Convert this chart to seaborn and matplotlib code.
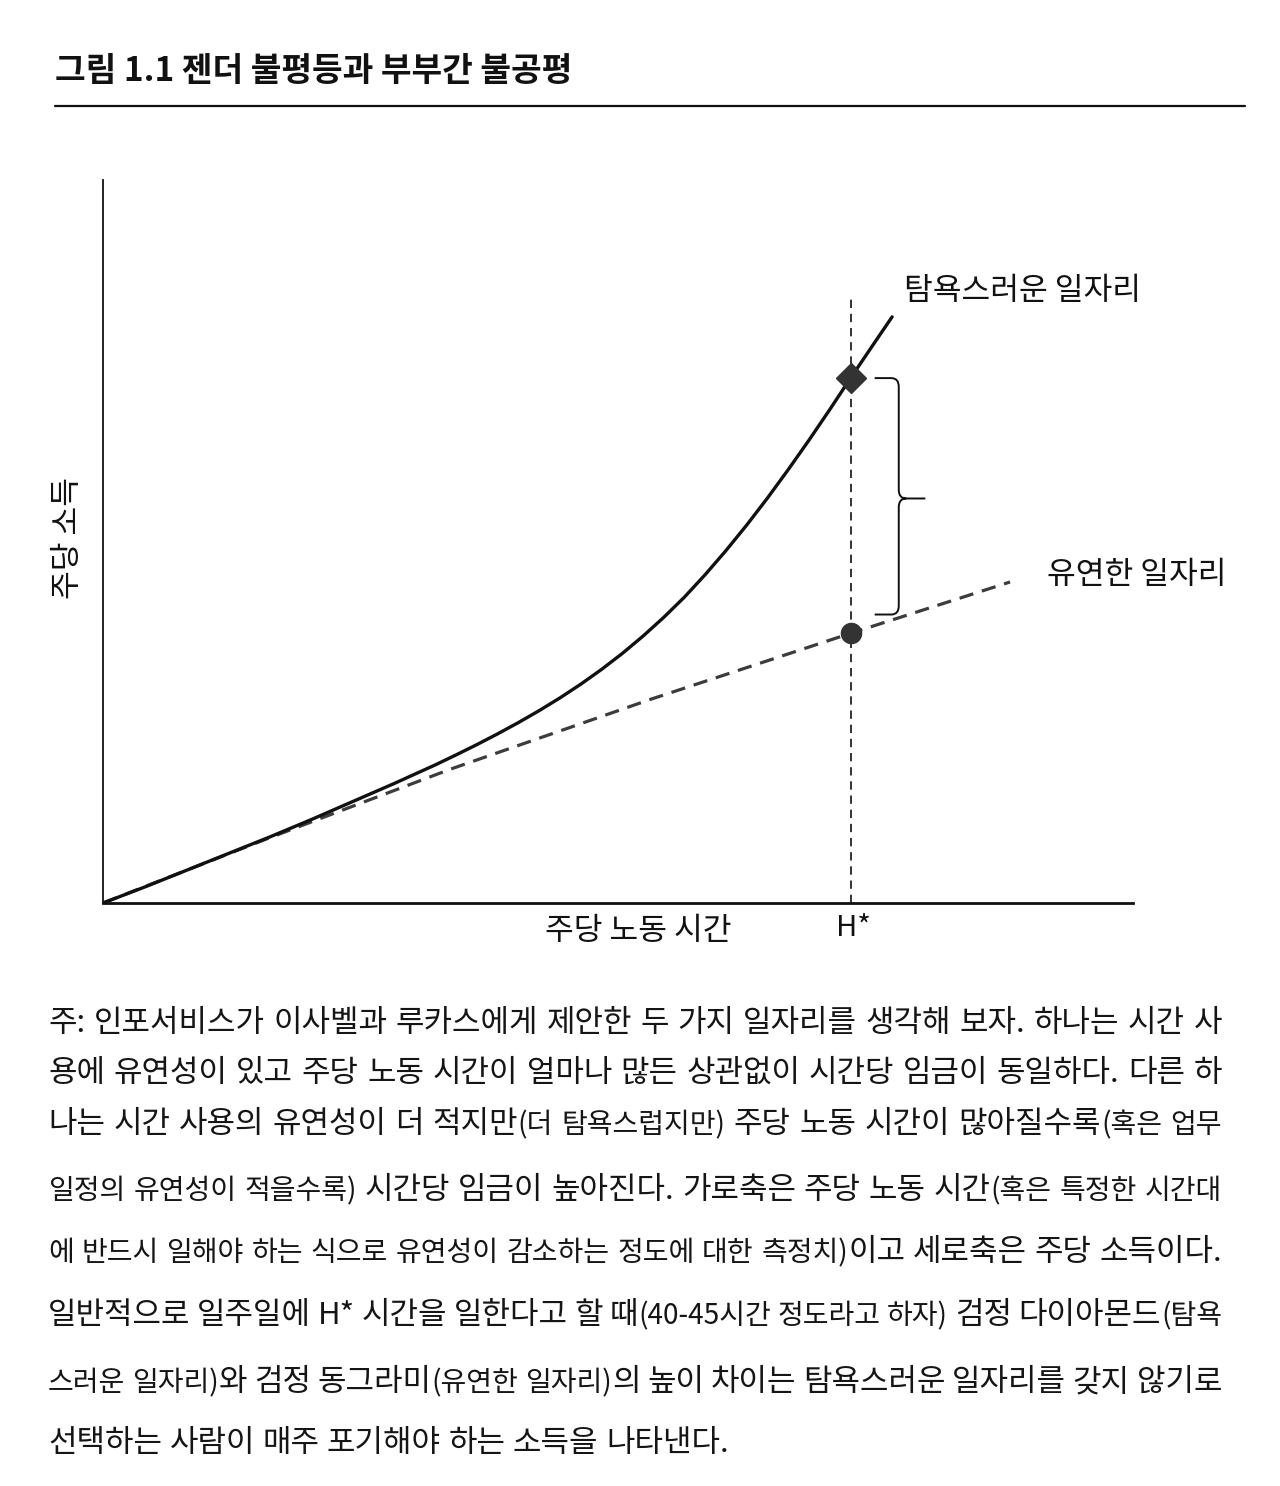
import matplotlib
matplotlib.use("Agg")
import matplotlib.pyplot as plt
from matplotlib.path import Path
from matplotlib.patches import PathPatch
import seaborn as sns
import pandas as pd

# ---------------- data ----------------
title = "그림 1.1 젠더 불평등과 부부간 불공평"
x_label = "주당 노동 시간"
y_label = "주당 소득"
greedy_label = "탐욕스러운 일자리"
flexible_label = "유연한 일자리"
h_star_label = "H*"

greedy_hours = [0, 2.5, 5, 7.5, 10, 12.5, 15, 17.5, 20, 21.25, 22.5, 23.75, 25,
                26.25, 27.5, 28.75, 30, 31.25, 32.5, 33.75, 35, 36.25, 37.5,
                38.75, 40, 41.25, 42.5, 43.75, 45, 46.25, 47.5]
greedy_income = [0, 2.2, 4.5, 6.8, 9.1, 11.5, 14.0, 16.5, 19.1, 20.48, 21.9, 23.39, 24.95,
                 26.6, 28.36, 30.25, 32.29, 34.5, 36.9, 39.5, 42.31, 45.42, 48.75,
                 52.28, 56.02, 59.95, 64.03, 68.26, 72.6, 76.85, 81.07]

flexible_hours = [0, 10, 20.9, 33, 45, 54.6]
flexible_income = [0, 9.0, 18.5, 28.2, 37.3, 44.4]

h_star = 45
h_star_top = 83.8
greedy_at_h = 72.6
flexible_at_h = 37.3

caption_lines = [
    "주: 인포서비스가 이사벨과 루카스에게 제안한 두 가지 일자리를 생각해 보자. 하나는 시간 사",
    "용에 유연성이 있고 주당 노동 시간이 얼마나 많든 상관없이 시간당 임금이 동일하다. 다른 하",
    "나는 시간 사용의 유연성이 더 적지만(더 탐욕스럽지만) 주당 노동 시간이 많아질수록(혹은 업무",
    "일정의 유연성이 적을수록) 시간당 임금이 높아진다. 가로축은 주당 노동 시간(혹은 특정한 시간대",
    "에 반드시 일해야 하는 식으로 유연성이 감소하는 정도에 대한 측정치)이고 세로축은 주당 소득이다.",
    "일반적으로 일주일에 H* 시간을 일한다고 할 때(40-45시간 정도라고 하자) 검정 다이아몬드(탐욕",
    "스러운 일자리)와 검정 동그라미(유연한 일자리)의 높이 차이는 탐욕스러운 일자리를 갖지 않기로",
    "선택하는 사람이 매주 포기해야 하는 소득을 나타낸다.",
]
caption_baselines_px = [1032, 1082, 1133, 1199, 1261, 1324, 1391, 1452]

# ---------------- style ----------------
sns.set_theme(style="white")
FONT = ["Noto Sans CJK KR", "DejaVu Sans"]
plt.rcParams["font.family"] = FONT

W, H = 1280, 1486
fig = plt.figure(figsize=(W / 100, H / 100), dpi=100)
fig.patch.set_facecolor("white")

def fx(px):
    return px / W

def fy(py):
    return 1 - py / H

ax = fig.add_axes([fx(103), fy(903), fx(1133) - fx(103), fy(180) - fy(903)])
ax.set_facecolor("white")
ax.set_xlim(0, 62)
ax.set_ylim(0, 100)

greedy_df = pd.DataFrame({"hours": greedy_hours, "income": greedy_income})
flex_df = pd.DataFrame({"hours": flexible_hours, "income": flexible_income})

sns.lineplot(data=flex_df, x="hours", y="income", ax=ax, color="#3c3c3c",
             linewidth=2.3, linestyle=(0, (4.5, 2.8)), sort=False, zorder=3)
sns.lineplot(data=greedy_df, x="hours", y="income", ax=ax, color="#111111",
             linewidth=2.4, sort=False, zorder=4)
for ln in ax.lines:
    ln.set_solid_joinstyle("round")

ax.plot([h_star, h_star], [0, h_star_top], color="#111111", linewidth=1.2,
        linestyle=(0, (5, 3.5)), zorder=2)

ax.plot([h_star], [greedy_at_h], marker="D", markersize=15, color="#333333",
        linestyle="none", zorder=6)
ax.plot([h_star], [flexible_at_h], marker="o", markersize=14.5, color="#333333",
        linestyle="none", zorder=6)

# curly brace between the two markers
x0 = h_star + 1.45
xm = h_star + 2.9
xt = h_star + 4.5
rx = 0.45
ry = 1.2
yt = greedy_at_h
yb = flexible_at_h + 2.6
ym = (yt + yb) / 2 - 0.3
verts = [
    (x0, yt), (xm - rx, yt), (xm, yt), (xm, yt - ry),
    (xm, ym + ry), (xm, ym), (xm + rx, ym), (xt, ym),
    (xm + rx, ym), (xm, ym), (xm, ym - ry),
    (xm, yb + ry), (xm, yb), (xm - rx, yb), (x0, yb),
]
codes = [
    Path.MOVETO, Path.LINETO, Path.CURVE3, Path.CURVE3,
    Path.LINETO, Path.CURVE3, Path.CURVE3, Path.LINETO,
    Path.MOVETO, Path.CURVE3, Path.CURVE3,
    Path.LINETO, Path.CURVE3, Path.CURVE3, Path.LINETO,
]
ax.add_patch(PathPatch(Path(verts, codes), fill=False, edgecolor="#111111",
                       linewidth=1.4, clip_on=False, zorder=5))

for side in ["top", "right"]:
    ax.spines[side].set_visible(False)
ax.spines["left"].set_color("#111111")
ax.spines["left"].set_linewidth(1.3)
ax.spines["bottom"].set_color("#111111")
ax.spines["bottom"].set_linewidth(2.0)
ax.set_xticks([])
ax.set_yticks([])
ax.set_xlabel("")
ax.set_ylabel("")

LABEL_SIZE = 22.5
ax.text(48.2, 84.6, greedy_label, fontsize=LABEL_SIZE, ha="left", va="center",
        color="#111111")
ax.text(56.8, 45.4, flexible_label, fontsize=LABEL_SIZE, ha="left", va="center",
        color="#111111")
fig.text(fx(638), fy(931), x_label, fontsize=LABEL_SIZE, ha="center", va="center",
         color="#111111")
ax.text(h_star + 0.2, -3.5, h_star_label, fontsize=LABEL_SIZE - 1.5, ha="center",
        va="center", color="#111111")
fig.text(fx(68), fy(538), y_label, fontsize=LABEL_SIZE, ha="center", va="center",
         rotation=90, color="#111111")

# title and rule
fig.text(fx(55), fy(71), title, fontsize=24, fontweight="bold", ha="left",
         va="center", color="#111111")
fig.add_artist(plt.Line2D([fx(55), fx(1245)], [fy(106), fy(106)],
                          color="#111111", linewidth=1.6))

# caption: justified lines, parenthetical parts in a smaller size
NORMAL = 22.3
SMALL = 20.2
LEFT_PX, RIGHT_PX = 48, 1222
renderer = fig.canvas.get_renderer()

def parse(line, small):
    words, cur, buf = [], [], ""
    for ch in line:
        if ch == " ":
            if buf:
                cur.append((buf, small))
                buf = ""
            if cur:
                words.append(cur)
                cur = []
        elif ch == "(":
            if buf:
                cur.append((buf, small))
                buf = ""
            small = True
            buf = ch
        elif ch == ")":
            buf += ch
            cur.append((buf, small))
            buf = ""
            small = False
        else:
            buf += ch
    if buf:
        cur.append((buf, small))
    if cur:
        words.append(cur)
    return words, small

small_state = False
for i, (line, base) in enumerate(zip(caption_lines, caption_baselines_px)):
    words, small_state = parse(line, small_state)
    word_items = []
    total = 0.0
    for w in words:
        items = []
        for txt, sm in w:
            t = fig.text(0, fy(base), txt, fontsize=SMALL if sm else NORMAL,
                         ha="left", va="baseline", color="#151515")
            wd = t.get_window_extent(renderer).width
            items.append((t, wd))
            total += wd
        word_items.append(items)
    avail = RIGHT_PX - LEFT_PX
    n_gaps = len(word_items) - 1
    last = i == len(caption_lines) - 1
    gap = 7.5 if last or n_gaps == 0 else (avail - total) / n_gaps
    x = LEFT_PX
    for items in word_items:
        for t, wd in items:
            t.set_x(fx(x))
            x += wd
        x += gap

fig.savefig("out.png", dpi=100, facecolor="white")
